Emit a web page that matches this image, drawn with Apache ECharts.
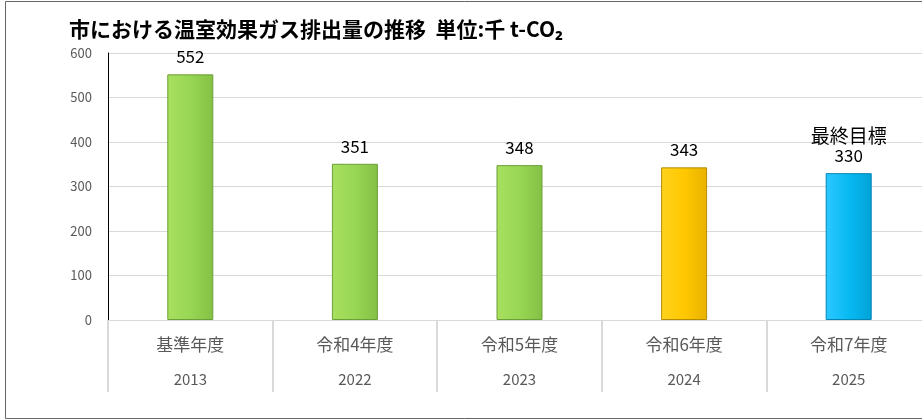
<!DOCTYPE html>
<html>
<head>
<meta charset="utf-8">
<script src="https://cdn.jsdelivr.net/npm/echarts@6/dist/echarts.min.js"></script>
<style>
  html, body { margin: 0; padding: 0; background: #fff; }
  #chart { width: 922px; height: 420px; }
</style>
</head>
<body>
<div id="chart"></div>
<script>
let categories = ['基準年度', '令和4年度', '令和5年度', '令和6年度', '令和7年度'];
let years = ['2013', '2022', '2023', '2024', '2025'];
let values = [552, 351, 348, 343, 330];
let notes = ['', '', '', '', '最終目標'];
let yTicks = [0, 100, 200, 300, 400, 500, 600];

let font = '"Noto Sans CJK JP", "Noto Sans", sans-serif';

function barGradient(light, mid, dark) {
    return new echarts.graphic.LinearGradient(0, 0, 1, 0, [
        { offset: 0, color: light },
        { offset: 0.5, color: mid },
        { offset: 1, color: dark }
    ]);
}

let barStyles = [
    { color: barGradient('#a8e05e', '#98d655', '#84c044'), borderColor: '#6c9f37' },
    { color: barGradient('#a8e05e', '#98d655', '#84c044'), borderColor: '#6c9f37' },
    { color: barGradient('#a8e05e', '#98d655', '#84c044'), borderColor: '#6c9f37' },
    { color: barGradient('#ffd21f', '#ffc800', '#e8b200'), borderColor: '#b58c00' },
    { color: barGradient('#2cc8ff', '#08baf2', '#00a2d8'), borderColor: '#0085b5' }
];

let option = {
    animation: false,
    title: {
        text: '市における温室効果ガス排出量の推移  単位:千 t-CO₂',
        left: 64,
        top: 14,
        textStyle: { fontFamily: font, fontSize: 21, fontWeight: 'bold', color: '#000' }
    },
    graphic: [{
        type: 'rect',
        shape: { x: 5.5, y: 1.5, width: 930, height: 417 },
        style: { fill: 'none', stroke: '#666', lineWidth: 1 },
        silent: true
    }],
    grid: { left: 108, width: 823, top: 53, bottom: 100, outerBoundsMode: 'none', containLabel: false },
    xAxis: {
        type: 'category',
        data: categories,
        axisLine: { show: true, lineStyle: { color: '#d9d9d9', width: 1 } },
        axisTick: { show: true, length: 72, interval: 0, lineStyle: { color: '#d9d9d9', width: 2 } },
        axisLabel: {
            interval: 0,
            margin: 15,
            fontFamily: font,
            fontSize: 17,
            color: '#595959',
            formatter: function (v, i) { return v + '\n{y|' + years[i] + '}'; },
            lineHeight: 20,
            rich: {
                y: { fontFamily: font, fontSize: 15, color: '#595959', padding: [28, 0, 0, 0] }
            }
        }
    },
    yAxis: {
        type: 'value',
        min: yTicks[0],
        max: yTicks[yTicks.length - 1],
        interval: 100,
        axisLine: { show: true, lineStyle: { color: '#000', width: 1 } },
        axisTick: { show: false },
        splitLine: { lineStyle: { color: '#d9d9d9', width: 1 } },
        axisLabel: { fontFamily: font, fontSize: 13, color: '#595959', margin: 16 }
    },
    series: [{
        type: 'bar',
        barWidth: 46,
        data: values.map(function (v, i) {
            return {
                value: v,
                itemStyle: {
                    color: barStyles[i].color,
                    borderColor: barStyles[i].borderColor,
                    borderWidth: 1
                }
            };
        }),
        label: {
            show: true,
            position: 'top',
            distance: 8,
            fontFamily: font,
            fontSize: 17,
            color: '#000',
            lineHeight: 19,
            formatter: function (p) {
                let n = notes[p.dataIndex];
                return n ? '{n|' + n + '}\n' + p.value : String(p.value);
            },
            rich: {
                n: { fontFamily: font, fontSize: 19, color: '#000', lineHeight: 21 }
            }
        }
    }]
};

echarts.init(document.getElementById('chart')).setOption(option);
</script>
</body>
</html>
